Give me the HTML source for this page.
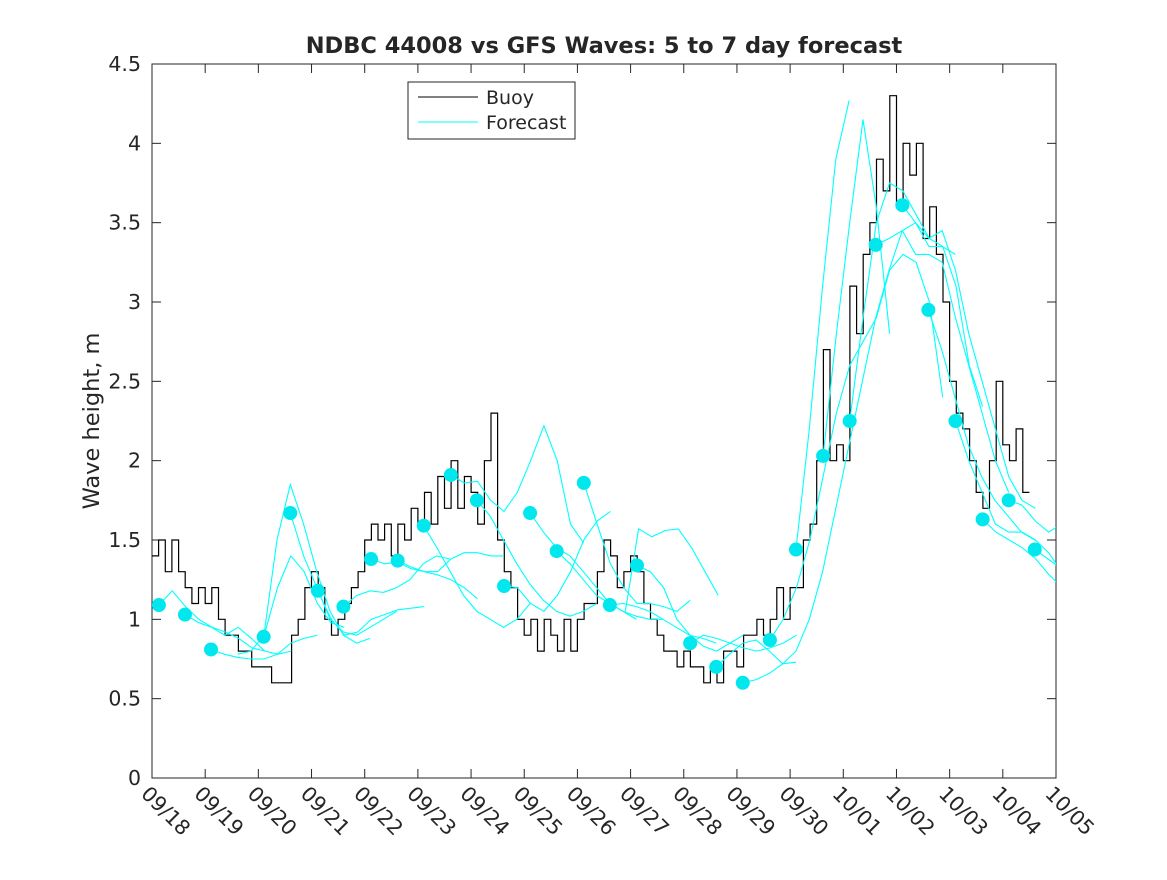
<!DOCTYPE html>
<html><head><meta charset="utf-8"><style>
body{margin:0;background:#fff;}
svg text{font-family:"DejaVu Sans","Liberation Sans",sans-serif;fill:#262626;}
</style></head><body>
<svg id="chart" width="1167" height="875" xmlns="http://www.w3.org/2000/svg">
<rect x="0" y="0" width="1167" height="875" fill="#fff"/>
<text x="604" y="53" text-anchor="middle" font-size="22.5" font-weight="bold">NDBC 44008 vs GFS Waves: 5 to 7 day forecast</text>
<text transform="translate(99,421) rotate(-90)" text-anchor="middle" font-size="22.5">Wave height, m</text>
<g id="axes"></g>
<g id="plot"></g>
<g id="legend">
<rect x="408" y="82" width="167" height="57" fill="#fff" stroke="#262626" stroke-width="1"/>
<line x1="418" y1="97" x2="478" y2="97" stroke="#000" stroke-width="1"/>
<text x="486" y="104" font-size="19">Buoy</text>
<line x1="418" y1="122" x2="478" y2="122" stroke="#00ffff" stroke-width="1"/>
<text x="486" y="129" font-size="19">Forecast</text>
</g>
</svg>
<script>
const xTickLabels=["09/18","09/19","09/20","09/21","09/22","09/23","09/24","09/25","09/26","09/27","09/28","09/29","09/30","10/01","10/02","10/03","10/04","10/05"];
const yTicks=[0,0.5,1,1.5,2,2.5,3,3.5,4,4.5];
const yTickLabels=["0","0.5","1","1.5","2","2.5","3","3.5","4","4.5"];
const buoyStep=0.125;
const buoyValues=[1.4,1.5,1.3,1.5,1.3,1.2,1.1,1.2,1.1,1.2,1.0,0.9,0.9,0.8,0.8,0.7,0.7,0.7,0.6,0.6,0.6,0.9,1.0,1.2,1.3,1.2,1.0,0.9,1.0,1.1,1.2,1.3,1.5,1.6,1.5,1.6,1.4,1.6,1.5,1.7,1.6,1.8,1.6,1.9,1.7,2.0,1.7,1.9,1.8,1.6,2.0,2.3,1.5,1.3,1.2,1.0,0.9,1.0,0.8,1.0,0.9,0.8,1.0,0.8,1.0,1.1,1.1,1.3,1.5,1.4,1.2,1.3,1.4,1.3,1.1,1.0,0.9,0.8,0.8,0.7,0.8,0.7,0.7,0.6,0.7,0.6,0.8,0.8,0.7,0.9,0.9,1.0,0.9,1.0,1.2,1.0,1.2,1.2,1.5,1.6,2.0,2.7,2.0,2.1,2.0,3.1,2.8,3.3,3.5,3.9,3.7,4.3,3.6,4.0,3.8,4.0,3.4,3.6,3.3,3.0,2.5,2.3,2.2,2.0,1.8,1.7,2.0,2.5,2.1,2.0,2.2,1.8];
const fcStep=0.25;
const fcStarts=[0.13,0.62,1.11,1.61,2.1,2.6,3.12,3.6,4.12,4.62,5.11,5.62,6.11,6.62,7.11,7.61,8.12,8.61,8.9,9.12,10.12,10.61,11.11,11.62,12.11,12.62,13.12,13.61,14.11,14.6,15.11,15.62,16.11,16.6];
const fcHasMarker=[1,1,1,0,1,1,1,1,1,1,1,1,1,1,1,1,1,1,0,1,1,1,1,1,1,1,1,1,1,1,1,1,1,1];
const fcValues=[
[1.09,1.18,1.08,1.0,0.95,0.92,0.88,0.82,0.8],
[1.03,0.98,0.95,0.9,0.95,0.88,0.8,0.78,0.8],
[0.81,0.78,0.76,0.75,0.75,0.78,0.85,0.88,0.9],
[0.78,0.8,0.9,1.2,1.4,1.3,1.1,0.98,0.95],
[0.89,1.5,1.85,1.6,1.3,1.05,0.9,0.85,0.88],
[1.67,1.4,1.2,1.0,0.92,0.9,0.95,1.0,1.05],
[1.18,1.0,0.9,0.92,1.0,1.03,1.06,1.07,1.08],
[1.08,1.15,1.18,1.17,1.2,1.25,1.35,1.4,1.38],
[1.38,1.35,1.36,1.32,1.3,1.28,1.25,1.2,1.13],
[1.37,1.33,1.3,1.3,1.38,1.42,1.42,1.4,1.4],
[1.59,1.45,1.3,1.15,1.05,1.0,0.95,1.0,1.1],
[1.91,1.86,1.87,1.75,1.68,1.8,2.0,2.22,2.0,1.6,1.48],
[1.75,1.65,1.5,1.35,1.22,1.12,1.05,1.02,1.05,1.1],
[1.21,1.2,1.1,1.05,1.15,1.3,1.5,1.62,1.68],
[1.67,1.55,1.45,1.4,1.3,1.2,1.1,1.05,1.0],
[1.43,1.35,1.25,1.15,1.1,1.05,1.02,1.0,1.0],
[1.86,1.6,1.35,1.2,1.1,1.1,1.08,1.05,1.12],
[1.09,1.1,1.08,1.05,1.0,0.95,0.9,0.88,0.85],
[1.05,1.57,1.52,1.56,1.57,1.45,1.3,1.15],
[1.34,1.3,1.2,1.0,0.9,0.83,0.8,0.85,0.9],
[0.85,0.9,0.88,0.85,0.82,0.8,0.82,0.85,0.9],
[0.7,0.78,0.85,0.87,0.8,0.72,0.73],
[0.6,0.62,0.66,0.72,0.8,1.0,1.3,1.7,2.1,2.5,2.9,3.2,3.45,3.5,3.35,3.35,3.3],
[0.87,1.0,1.2,1.5,1.9,2.3,2.6,2.75,2.9,3.2,3.3,3.25,3.0,2.4],
[1.44,2.2,3.1,3.9,4.27],
[2.03,2.8,3.5,4.15,3.6,2.8],
[2.25,2.9,3.5,3.75,3.7,3.55,3.4,3.35,3.1,2.6,2.34],
[3.36,3.4,3.45,3.3,3.3,3.25,2.9,2.6,2.3,2.0,1.8],
[3.61,3.5,3.4,3.45,3.2,2.8,2.5,2.2,1.9,1.75,1.7],
[2.95,2.7,2.4,2.1,1.9,1.75,1.65,1.55,1.5],
[2.25,2.0,1.8,1.6,1.55,1.55,1.5,1.42,1.3],
[1.63,1.55,1.5,1.45,1.38,1.28,1.2,1.16],
[1.75,1.72,1.62,1.55,1.6,1.68],
[1.44,1.38,1.32,1.3]
];
const X0=152,X1=1056,Y0=778,Y1=64,DAYS=17,YMAX=4.5;
function xs(d){return X0+(X1-X0)*d/DAYS;}
function ys(v){return Y0-(Y0-Y1)*v/YMAX;}
const NS="http://www.w3.org/2000/svg";
function mk(tag,attrs,parent){const e=document.createElementNS(NS,tag);for(const k in attrs)e.setAttribute(k,attrs[k]);parent.appendChild(e);return e;}
const axes=document.getElementById('axes'),plot=document.getElementById('plot');
const defs=mk('defs',{},plot);const cp=mk('clipPath',{id:'pc'},defs);mk('rect',{x:X0,y:Y1,width:X1-X0,height:Y0-Y1},cp);
const box=mk('rect',{x:X0,y:Y1,width:X1-X0,height:Y0-Y1,fill:'none',stroke:'#262626','stroke-width':1},axes);


yTicks.forEach((t,i)=>{
 const y=ys(t);
 mk('line',{x1:X0,y1:y,x2:X0+9,y2:y,stroke:'#262626'},axes);
 mk('line',{x1:X1,y1:y,x2:X1-9,y2:y,stroke:'#262626'},axes);
 const tx=mk('text',{x:X0-11,y:y+7,'text-anchor':'end','font-size':20.5},axes);
 tx.textContent=yTickLabels[i];
 
 
});
xTickLabels.forEach((l,i)=>{
 const x=xs(i);
 mk('line',{x1:x,y1:Y0,x2:x,y2:Y0-9,stroke:'#262626'},axes);
 mk('line',{x1:x,y1:Y1,x2:x,y2:Y1+9,stroke:'#262626'},axes);
 const tx=mk('text',{transform:`translate(${x-12},${Y0+17}) rotate(45)`,'font-size':20.5},axes);
 tx.textContent=l;
 
 
});
const g=mk('g',{'clip-path':'url(#pc)'},plot);
let d='';buoyValues.forEach((v,i)=>{const x=xs(i*buoyStep).toFixed(1),y=ys(v).toFixed(1);d+=(i?'V'+y:'M'+x+','+y)+'H'+xs((i+1)*buoyStep).toFixed(1);});
const bl=mk('path',{d:d,fill:'none',stroke:'#000','stroke-width':1.2},g);


fcValues.forEach((arr,k)=>{
 let p='';arr.forEach((v,i)=>{p+=(i?'L':'M')+xs(fcStarts[k]+i*fcStep).toFixed(1)+','+ys(v).toFixed(1);});
 const fl=mk('path',{d:p,fill:'none',stroke:'#00ffff','stroke-width':1.1},g);
 
 
});
fcValues.forEach((arr,k)=>{
 if(!fcHasMarker[k])return;
 const c=mk('circle',{cx:xs(fcStarts[k]),cy:ys(arr[0]),r:7,fill:'#00e8ee'},g);
 
 
});
</script>
</body></html>
